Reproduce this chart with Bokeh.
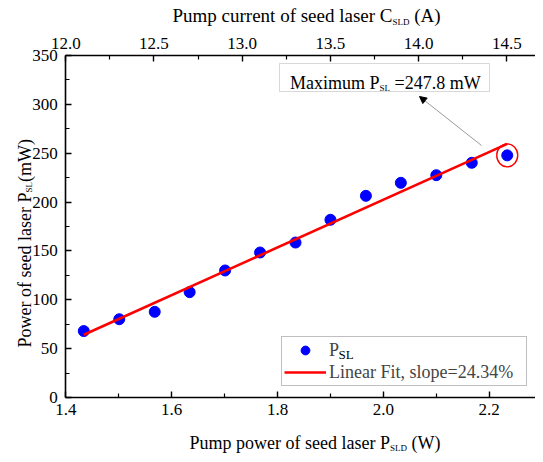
import numpy as np
from bokeh.plotting import figure
from bokeh.models import (Range1d, LinearAxis, FixedTicker, NumeralTickFormatter, Label,
                          BoxAnnotation, Arrow, NormalHead, Legend, LegendItem)
from bokeh.embed import file_html
from bokeh.resources import INLINE

# ---------------- data ----------------
pump_current_A = [12.1, 12.3, 12.5, 12.7, 12.9, 13.1, 13.3, 13.5, 13.7, 13.9, 14.1, 14.3, 14.5]
pump_power_W = [1.434, 1.501, 1.568, 1.634, 1.701, 1.767, 1.834, 1.900, 1.967, 2.033, 2.100, 2.167, 2.234]
seed_power_mW = [68.0, 80.1, 87.7, 107.8, 130.0, 148.4, 158.6, 181.9, 206.4, 219.7, 227.5, 240.2, 247.8]
fit_label = "Linear Fit, slope=24.34%"
max_label = "=247.8 mW"

x_ticks = [1.4, 1.6, 1.8, 2.0, 2.2]
x_minor = [1.5, 1.7, 1.9, 2.1]
top_ticks = [12.0, 12.5, 13.0, 13.5, 14.0, 14.5]
top_minor = [12.25, 12.75, 13.25, 13.75, 14.25]
y_ticks = [0, 50, 100, 150, 200, 250, 300, 350]
y_minor = [25, 75, 125, 175, 225, 275, 325]

# ---------------- layout (page pixels) ----------------
W, H = 535, 454
FONT = "Liberation Serif"
AX_L, AX_R, AX_T, AX_B = 73.3, 543.0, 63.0, 405.0   # axes box on the page
XA, XB = 1.4, 2.2874        # bottom axis span
TA, TB = 12.0, 14.6627      # top axis span
YA, YB = 0.0, 350.0         # left axis span
sx = (AX_R - AX_L) / (XB - XA)
st = (AX_R - AX_L) / (TB - TA)
sy = (AX_B - AX_T) / (YB - YA)
XS, XE = XA - (AX_L - 8) / sx, XA + (8 + W - AX_L) / sx
TS, TE = TA - (AX_L - 8) / st, TA + (8 + W - AX_L) / st
YS, YE = YA - (8 + H - AX_B) / sy, YB + (AX_T - 8) / sy

p = figure(width=W, height=H, output_backend="svg", toolbar_location=None,
           x_range=Range1d(XS, XE), y_range=Range1d(YS, YE),
           x_axis_type=None, y_axis_type=None, title=None,
           min_border_left=0, min_border_right=0, min_border_top=0, min_border_bottom=0)
p.outline_line_color = None
p.extra_x_ranges = {"top": Range1d(TS, TE)}


def make_axis(ticks, minor, fixed, bounds, fmt=None, standoff=6, **kw):
    ax = LinearAxis(fixed_location=fixed, bounds=bounds, **kw)
    ax.ticker = FixedTicker(ticks=ticks, minor_ticks=minor)
    if fmt:
        ax.formatter = NumeralTickFormatter(format=fmt)
    ax.axis_line_width = 1.6
    ax.axis_line_color = "black"
    ax.major_tick_line_width = 1.4
    ax.minor_tick_line_width = 1.2
    ax.major_tick_in = 6
    ax.major_tick_out = 0
    ax.minor_tick_in = 4
    ax.minor_tick_out = 0
    ax.major_label_text_font = FONT
    ax.major_label_text_font_size = "17px"
    ax.major_label_text_color = "black"
    ax.major_label_standoff = standoff
    return ax


p.add_layout(make_axis(x_ticks, x_minor, YA, (XA, XE), "0.0", 6), "below")
p.add_layout(make_axis(top_ticks, top_minor, YB, (TA, TE), "0.0", 7, x_range_name="top"), "above")
p.add_layout(make_axis(y_ticks, y_minor, XA, (YA, YB), None, 8), "left")

# ---------------- glyphs ----------------
slope, intercept = np.polyfit(pump_power_W, seed_power_mW, 1)
fx = [min(pump_power_W), max(pump_power_W)]
fy = [slope * v + intercept for v in fx]

r_pts = p.scatter(pump_power_W, seed_power_mW, size=11, color="#0000ff")
r_fit = p.line(fx, fy, line_color="#ff0000", line_width=2.6)
imax = int(np.argmax(seed_power_mW))
p.ellipse(x=[pump_power_W[imax]], y=[seed_power_mW[imax]], width=21, height=23,
          width_units="screen", height_units="screen", fill_color=None,
          line_color="#ff0000", line_width=1.4)

# ---------------- helpers ----------------
TIMES = {' ': 250, '(': 333, ')': 333, '%': 833, ',': 250, '.': 250, '=': 564,
         'A': 722, 'C': 667, 'D': 722, 'F': 556, 'L': 611, 'M': 889, 'P': 556, 'S': 556, 'W': 944,
         'a': 444, 'c': 444, 'd': 500, 'e': 444, 'f': 333, 'i': 278, 'l': 278, 'm': 778, 'n': 500,
         'o': 500, 'p': 500, 'r': 333, 's': 389, 't': 278, 'u': 500, 'w': 722, 'x': 500}


def tw(text, size):
    return sum(TIMES.get(c, 500) for c in text) * size / 1000.0


def X(px):
    return XA + (px - AX_L) / sx


def Y(py):
    return YA + (AX_B - py) / sy


def rich(parts, px, py, vertical=False):
    """parts: list of (text, size_px, drop_px). Leading spaces become an advance."""
    pos = 0.0
    for text, size, drop in parts:
        stripped = text.lstrip(" ")
        pos += tw(text[:len(text) - len(stripped)], size)
        if vertical:
            lab = Label(x=X(px + drop), y=Y(py - pos), text=stripped, angle=90, angle_units="deg")
        else:
            lab = Label(x=X(px + pos), y=Y(py + drop), text=stripped)
        lab.text_font = FONT
        lab.text_font_size = f"{size}px"
        lab.text_color = "black"
        lab.text_align = "left"
        lab.text_baseline = "alphabetic"
        lab.level = "overlay"
        p.add_layout(lab)
        pos += tw(stripped, size)


# ---------------- annotations ----------------
box = BoxAnnotation(left=X(287), right=X(497), top=Y(71), bottom=Y(99),
                    fill_color="white", fill_alpha=1.0, line_color="#7f7f7f", line_width=1)
p.add_layout(box)
rich([("Maximum P", 18, 0), ("SL", 9, 5), (" " + max_label, 18, 0)], 297.5, 90)

p.add_layout(Arrow(end=NormalHead(size=7, fill_color="black", line_color="black"),
                   x_start=X(489), y_start=Y(153), x_end=X(427), y_end=Y(104),
                   line_color="#808080", line_width=0.8))

LEG_L, LEG_B = 289, 394
legend = Legend(items=[LegendItem(label="P", renderers=[r_pts]),
                       LegendItem(label=fit_label, renderers=[r_fit])],
                location=(LEG_L - 8, (8 + H) - LEG_B))
legend.label_text_font = FONT
legend.label_text_font_size = "18px"
legend.border_line_color = "#7f7f7f"
legend.border_line_width = 1
legend.background_fill_color = "white"
legend.background_fill_alpha = 0.0
legend.padding = 2
legend.spacing = 0
legend.margin = 0
legend.glyph_width = 42
legend.glyph_height = 22
legend.label_height = 21
legend.label_width = 195
legend.label_standoff = 3
p.add_layout(legend)
rich([("SL", 13, 0)], LEG_L + 2 + 42 + 3 + tw("P", 18), 362)

# axis titles
rich([("Pump power of seed laser P", 18, 0), ("SLD", 9, 5), (" (W)", 18, 0)], 197, 450)
rich([("Pump current of seed laser C", 19, 0), ("SLD", 9, 6), (" (A)", 19, 0)], 180, 23)
rich([("Power of seed laser P", 18, 0), ("SL", 9, 4), ("(mW)", 18, 0)], 32, 355, vertical=True)

open("out.html", "w").write(file_html(p, INLINE))
